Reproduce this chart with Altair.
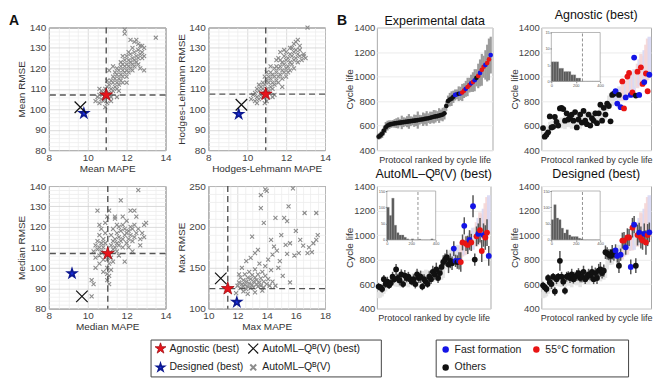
import altair as alt
import numpy as np
import pandas as pd

FONT = "Liberation Sans"
STAR = ("M0,-1L0.2245,-0.309L0.9511,-0.309L0.3633,0.118L0.5878,0.809L0,0.382"
        "L-0.5878,0.809L-0.3633,0.118L-0.9511,-0.309L-0.2245,-0.309Z")
CROSS = "M-1,-1L1,1M-1,1L1,-1"

# ---------------- Panel A data (MAPE, RMSE) ----------------
a_mean = [(10.4,104),(10.5,106),(10.6,103),(10.6,107),(10.7,105),(10.7,109),(10.8,104),(10.8,108),(10.9,110),(10.9,106),
          (11.0,103),(11.0,111),(11.1,108),(11.1,112),(11.2,106),(11.2,110),(11.2,114),(11.3,109),(11.3,113),(11.3,116),
          (11.4,111),(11.4,115),(11.4,118),(11.5,110),(11.5,113),(11.5,117),(11.5,120),(11.6,112),(11.6,115),(11.6,119),
          (11.7,114),(11.7,117),(11.7,121),(11.7,123),(11.8,113),(11.8,116),(11.8,119),(11.8,122),(11.9,118),(11.9,121),
          (11.9,124),(12.0,116),(12.0,119),(12.0,122),(12.0,126),(12.1,118),(12.1,121),(12.1,124),(12.2,120),(12.2,123),
          (12.2,127),(12.3,119),(12.3,122),(12.3,125),(12.4,121),(12.4,124),(12.4,128),(12.5,123),(12.5,126),(12.5,134),
          (12.6,122),(12.6,125),(12.6,129),(12.7,127),(12.7,131),(12.8,125),(12.8,128),(12.8,131),(12.9,126),(12.9,130),
          (11.9,139),(11.9,137),(12.2,134),(13.5,135),(12.4,133),(11.1,119),(11.3,121),(11.0,114),(10.9,101),(11.2,104),
          (12.0,113),(12.3,130),(11.6,109),(12.7,120),(12.9,119),(11.5,106),(10.6,110),(12.1,128),(11.8,126),(12.6,132)]
a_hl = [(10.2,105),(10.3,107),(10.4,104),(10.4,108),(10.5,106),(10.5,110),(10.6,105),(10.6,109),(10.7,107),(10.7,111),
        (10.8,106),(10.8,110),(10.8,113),(10.9,108),(10.9,112),(11.0,104),(11.0,110),(11.0,114),(11.1,109),(11.1,113),
        (11.1,116),(11.2,111),(11.2,115),(11.2,118),(11.3,110),(11.3,113),(11.3,117),(11.4,112),(11.4,116),(11.4,120),
        (11.5,114),(11.5,118),(11.5,121),(11.6,113),(11.6,116),(11.6,120),(11.7,117),(11.7,121),(11.7,124),(11.8,115),
        (11.8,119),(11.8,123),(11.9,118),(11.9,122),(11.9,126),(12.0,120),(12.0,124),(12.0,128),(12.1,121),(12.1,125),
        (12.2,119),(12.2,123),(12.2,127),(12.3,122),(12.3,126),(12.3,130),(12.4,124),(12.4,128),(12.4,132),(12.5,125),
        (12.5,129),(12.5,133),(12.6,127),(12.6,123),(12.7,126),(12.7,129),(12.8,124),(12.9,126),(12.9,127),(13.0,125),
        (13.1,140),(11.0,118),(10.9,116),(11.6,125),(12.2,130),(11.4,107),(12.0,116),(10.6,112),(11.9,129),(12.7,131),
        (11.2,121),(11.8,111),(12.4,120),(10.9,103),(11.5,124),(12.1,118),(11.3,106),(12.6,134),(11.7,128),(10.5,103)]
a_median = [(10.3,108),(10.4,105),(10.4,111),(10.5,109),(10.5,113),(10.6,106),(10.6,110),(10.6,116),(10.7,108),(10.7,112),
            (10.7,119),(10.8,104),(10.8,110),(10.8,114),(10.9,107),(10.9,112),(10.9,117),(10.9,122),(11.0,100),(11.0,97),
            (11.0,94),(11.1,102),(11.1,96),(11.1,92),(11.2,99),(11.2,111),(11.2,116),(11.3,109),(11.3,113),(11.3,119),
            (11.4,110),(11.4,114),(11.4,124),(11.5,108),(11.5,112),(11.5,117),(11.6,111),(11.6,115),(11.6,120),(11.7,113),
            (11.7,118),(11.7,133),(11.8,110),(11.8,114),(11.8,121),(11.9,116),(11.9,119),(12.0,112),(12.0,117),(12.0,123),
            (12.1,114),(12.1,118),(12.2,116),(12.2,120),(12.2,128),(12.3,113),(12.3,119),(12.4,115),(12.4,121),(12.5,117),
            (12.5,125),(12.6,138),(12.6,119),(12.7,114),(12.8,117),(12.9,121),(13.0,122),(10.5,128),(11.1,128),(11.4,125),
            (12.4,128),(10.2,94),(10.3,92),(10.2,86),(10.6,102),(11.9,103),(12.3,108),(11.0,104),(10.8,98),(11.6,106),
            (12.1,110),(10.6,121),(11.2,105),(11.8,125),(12.7,111),(10.4,100),(11.5,121),(11.3,103),(12.9,115),(11.0,125)]
a_max = [(12.0,128),(12.1,132),(12.2,125),(12.2,138),(12.3,130),(12.4,127),(12.4,135),(12.5,142),(12.5,129),(12.6,124),
         (12.6,133),(12.7,138),(12.7,127),(12.8,131),(12.8,145),(12.9,125),(12.9,136),(13.0,129),(13.0,141),(13.1,133),
         (13.1,126),(13.2,138),(13.2,148),(13.3,130),(13.3,135),(13.4,127),(13.4,142),(13.5,132),(13.5,155),(13.6,137),
         (13.6,128),(13.7,145),(13.8,133),(13.8,126),(13.9,140),(14.0,130),(14.1,136),(14.2,128),(14.3,147),(14.4,133),
         (12.3,150),(12.6,158),(12.9,162),(13.2,168),(13.4,172),(13.0,188),(13.6,223),(13.6,239),(13.9,246),(14.0,244),
         (13.8,205),(14.3,184),(14.5,176),(14.7,171),(14.6,211),(15.0,190),(15.2,211),(15.4,207),(15.4,167),(15.6,180),
         (15.9,165),(15.8,247),(15.5,225),(16.0,195),(16.3,184),(16.5,177),(16.6,217),(16.9,175),(17.1,169),(17.4,184),
         (17.4,217),(17.5,190),(17.2,180),(16.8,168),(14.8,150),(15.1,140),(15.6,132),(14.9,158),(12.7,118),(13.2,120),
         (11.9,119),(12.4,121),(13.7,122),(14.6,128),(14.1,160),(13.9,152),(12.1,142),(14.4,166),(15.3,178),(16.2,168)]

best_names = ["Agnostic (best)", "Designed (best)", "AutoML–Qᴮ(V) (best)"]
best_mean_x = [10.95, 9.8, 9.62]
best_mean_y = [107.0, 98.0, 101.0]
best_hl_x = [10.95, 9.56, 9.7]
best_hl_y = [107.4, 97.6, 102.2]
best_median_x = [11.03, 9.19, 9.7]
best_median_y = [107.0, 97.2, 86.0]
best_max_x = [11.33, 11.95, 10.85]
best_max_y = [124.5, 108.0, 137.0]

legend_a_labels = ["Agnostic (best)", "AutoML–Qᴮ(V) (best)", "Designed (best)", "AutoML–Qᴮ(V)"]
legend_a_col = [0, 1, 0, 1]
legend_a_row = [0, 0, 1, 1]

# ---------------- Panel B data (protocols ranked by cycle life) ----------------
rank = list(range(64))
exp_life = [510, 520, 535, 560, 585, 600, 608, 612, 615, 618, 620, 622, 624, 626, 628, 630,
            632, 634, 636, 638, 640, 642, 645, 648, 650, 652, 655, 658, 660, 664, 668, 672,
            675, 678, 682, 686, 690, 700, 760, 800, 812, 820, 835, 850, 855, 860,
            862, 870, 885, 900, 915, 930, 945, 955, 970, 990, 1005, 1030, 1055, 1080, 1095, 1110, 1140, 1175]
exp_err = [25, 30, 35, 40, 45, 40, 35, 30, 30, 35, 40, 45, 30, 55, 40, 35,
           45, 60, 40, 35, 50, 45, 70, 40, 35, 55, 45, 60, 40, 50, 45, 55,
           50, 40, 60, 45, 55, 50, 40, 45, 55, 60, 50, 45, 40, 60,
           55, 70, 60, 65, 75, 60, 70, 80, 90, 70, 100, 110, 130, 90, 120, 150, 170, 150]
group = ['O'] * 43 + ['F', 'F', 'O', 'F', 'H', 'H', 'F', 'H', 'H', 'F', 'H',
                      'F', 'O', 'H', 'F', 'H', 'H', 'F', 'H', 'H', 'F']
pred_agn = [580, 510, 525, 545, 675, 585, 590, 670, 630, 600,
            740, 745, 735, 640, 700, 650, 672, 690, 640, 710,
            585, 650, 690, 625, 720, 640, 612, 690, 600, 660,
            640, 700, 620, 700, 770, 640, 745, 690, 780, 760,
            635, 850, 860,
            880, 780, 850, 750, 960, 740, 830, 1000, 1030, 850, 870, 1155, 845, 1040, 850, 1075, 940, 955, 1025, 880, 1015]
pred_aut = [580, 575, 560, 640, 600, 620, 590, 610, 660, 640,
            720, 650, 630, 680, 600, 670, 650, 660, 640, 620,
            640, 600, 680, 650, 660, 580, 640, 620, 600, 660,
            640, 700, 680, 720, 650, 690, 740, 780, 800, 820,
            760, 790, 770,
            890, 790, 780, 790, 780, 940, 1075, 930, 920, 960, 940, 1235, 800, 990, 1010, 1040, 870, 1000, 980, 1020, 830]
err_aut = [30, 25, 30, 35, 30, 40, 30, 35, 40, 30,
           45, 35, 40, 40, 30, 45, 35, 40, 35, 30,
           40, 35, 45, 40, 50, 30, 40, 35, 30, 45,
           40, 50, 45, 55, 40, 50, 60, 55, 50, 60,
           70, 60, 55,
           60, 50, 55, 70, 80, 65, 70, 60, 75, 80, 70, 90, 50, 80, 85, 100, 90, 95, 100, 110, 80]
pred_des = [590, 575, 560, 650, 615, 600, 660, 540, 640, 660,
            790, 660, 620, 545, 660, 670, 650, 680, 640, 660,
            670, 690, 650, 660, 700, 640, 660, 680, 670, 700,
            640, 690, 650, 710, 720, 690, 710, 860, 850, 840,
            830, 860, 840,
            875, 830, 750, 840, 955, 955, 900, 980, 980, 740, 1060, 1085, 750, 1000, 1020, 980, 955, 1010, 940, 1000, 1022]
err_des = [30, 25, 35, 30, 35, 40, 30, 35, 40, 30,
           80, 40, 35, 30, 40, 35, 40, 45, 35, 40,
           45, 40, 35, 45, 50, 40, 35, 45, 40, 50,
           40, 45, 50, 55, 60, 45, 50, 55, 50, 45,
           55, 60, 50,
           50, 55, 60, 50, 65, 70, 60, 75, 70, 60, 80, 70, 60, 85, 80, 90, 75, 85, 100, 90, 80]

hist_lo = [0, 20, 40, 60, 80, 100, 120, 140, 160, 180, 200, 220, 240, 260, 280, 300, 320, 340, 360, 380]
hist_hi = [20, 40, 60, 80, 100, 120, 140, 160, 180, 200, 220, 240, 260, 280, 300, 320, 340, 360, 380, 400]
hist_agn = [6, 6, 6, 4, 4, 3, 3, 3, 2, 2, 1, 1, 0, 0, 0, 0, 0, 0, 0, 0]
hist_aut = [100, 75, 128, 45, 22, 15, 15, 8, 3, 0, 3, 0, 0, 2, 0, 0, 0, 0, 3, 0]
hist_des = [62, 108, 67, 62, 36, 21, 31, 15, 10, 10, 10, 5, 3, 0, 0, 0, 0, 0, 0, 0]
hist_threshold = 255

legend_b_labels = ["Fast formation", "55°C formation", "Others"]
legend_b_codes = ["F", "H", "O"]
legend_b_col = [0, 1, 0]
legend_b_row = [0, 0, 1]

for lst in (exp_life, exp_err, group, pred_agn, pred_aut, err_aut, pred_des, err_des):
    assert len(lst) == 64, len(lst)

# ---------------- styles ----------------
cat_shape = alt.Scale(domain=legend_a_labels, range=[STAR, CROSS, STAR, CROSS])
cat_fill = alt.Scale(domain=legend_a_labels, range=['#e8141b', 'transparent', '#1b2fe0', 'transparent'])
cat_stroke = alt.Scale(domain=legend_a_labels, range=['#a00d12', '#111111', '#0c1890', '#8c8c8c'])
cat_sw = alt.Scale(domain=legend_a_labels, range=[0.8, 2.0, 0.8, 1.2])
grp_color = alt.Scale(domain=legend_b_codes, range=['#1414e6', '#e81414', '#111111'])
grp_light = alt.Scale(domain=legend_b_codes, range=['#d8d8f4', '#f4d6d6', '#e2e2e2'])

H = 123
TITLE_FS = 12.5


def ind(ch):
    return ch.resolve_scale(color='independent', fill='independent', stroke='independent',
                            shape='independent', size='independent', strokeWidth='independent')


def letter_mark(letter, dx):
    return alt.Chart(pd.DataFrame({'t': [letter]})).mark_text(
        fontSize=14, fontWeight='bold', align='left', baseline='middle', color='#111').encode(
        text='t:N', x=alt.value(dx), y=alt.value(-7))


def a_panel(pts, bx, by, xdom, xminor, xmajor, ydom, yminor, ymajor, xtitle, ytitle, width=117, letter=None):
    df = pd.DataFrame(pts, columns=['x', 'y'])
    xmaj = np.round(np.arange(xdom[0], xdom[1] + 1e-9, xmajor), 4).tolist()
    ymaj = np.round(np.arange(ydom[0], ydom[1] + 1e-9, ymajor), 4).tolist()
    xmin = [v for v in np.round(np.arange(xdom[0], xdom[1] + 1e-9, xminor), 4).tolist() if v not in xmaj]
    ymin = [v for v in np.round(np.arange(ydom[0], ydom[1] + 1e-9, yminor), 4).tolist() if v not in ymaj]
    xs = alt.Scale(domain=xdom, nice=False)
    ys = alt.Scale(domain=ydom, nice=False)
    xax = alt.Axis(title=xtitle, values=xmaj, format='d', grid=True, gridColor='#d2d2d2', gridWidth=0.8,
                   ticks=False, domain=False, labelPadding=2, titlePadding=1, labelOverlap=False,
                   labelFlush=False, labelFontSize=10, titleFontSize=10)
    yax = alt.Axis(title=ytitle, values=ymaj, format='d', grid=True, gridColor='#d2d2d2', gridWidth=0.8,
                   ticks=False, domain=False, labelPadding=3, titlePadding=1, labelOverlap=False,
                   labelFlush=False, minExtent=21, maxExtent=21, labelFontSize=10, titleFontSize=10)
    minor = alt.Chart(df).mark_point(opacity=0).encode(
        x=alt.X('x:Q', scale=xs, axis=alt.Axis(orient='top', values=xmin, labels=False, ticks=False,
                                               domain=False, grid=True, gridColor='#eeeeee',
                                               gridWidth=0.8, title=None, minExtent=0, maxExtent=0)),
        y=alt.Y('y:Q', scale=ys, axis=alt.Axis(orient='right', values=ymin, labels=False, ticks=False,
                                               domain=False, grid=True, gridColor='#eeeeee',
                                               gridWidth=0.8, title=None, minExtent=0, maxExtent=0)))
    cloud = alt.Chart(df).mark_point(shape=CROSS, filled=False, color='#8c8c8c', size=16,
                                     strokeWidth=1.1, opacity=1).encode(
        x=alt.X('x:Q', scale=xs, axis=xax), y=alt.Y('y:Q', scale=ys, axis=yax))
    bdf = pd.DataFrame({'name': best_names, 'x': bx, 'y': by})
    vr = alt.Chart(bdf.iloc[:1]).mark_rule(color='#555555', strokeDash=[6, 4], strokeWidth=1.4).encode(
        x=alt.X('x:Q', scale=xs, axis=None))
    hr = alt.Chart(bdf.iloc[:1]).mark_rule(color='#555555', strokeDash=[6, 4], strokeWidth=1.4).encode(
        y=alt.Y('y:Q', scale=ys, axis=None))
    best = alt.Chart(bdf).mark_point(opacity=1).encode(
        x=alt.X('x:Q', scale=xs, axis=None), y=alt.Y('y:Q', scale=ys, axis=None),
        shape=alt.Shape('name:N', scale=cat_shape, legend=None),
        fill=alt.Fill('name:N', scale=cat_fill, legend=None),
        stroke=alt.Stroke('name:N', scale=cat_stroke, legend=None),
        strokeWidth=alt.StrokeWidth('name:N', scale=cat_sw, legend=None),
        size=alt.Size('name:N', scale=alt.Scale(domain=legend_a_labels, range=[180, 40, 180, 16]), legend=None))
    layers = [minor, cloud, vr, hr, best]
    if letter:
        layers.append(letter_mark(letter, -40))
    return alt.layer(*layers).resolve_axis(x='independent', y='independent').properties(
        width=width, height=H, view=alt.ViewBackground(stroke='#555555', strokeWidth=1))


df_b = pd.DataFrame({'rank': rank, 'exp': exp_life, 'exp_err': exp_err, 'group': group,
                     'agn': pred_agn, 'aut': pred_aut, 'aut_err': err_aut,
                     'des': pred_des, 'des_err': err_des})

B_XAX = alt.Axis(title='Protocol ranked by cycle life', labels=False, ticks=False, domain=False,
                 grid=False, titleFontSize=9, titlePadding=5)
B_YAX = alt.Axis(title='Cycle life', values=[400, 600, 800, 1000, 1200, 1400], format='d', grid=True,
                 gridColor='#ebebeb', ticks=False, domain=False, labelPadding=2, titlePadding=0,
                 labelOverlap=False, minExtent=22, maxExtent=22, labelFontSize=9.5, titleFontSize=10)


def b_panel(title, width, pred=None, err=None, hist=None, hmax=None, hxt=None, hyt=None, letter=None):
    xs = alt.Scale(domain=[-1, 64], nice=False)
    ys = alt.Scale(domain=[400, 1400], nice=False)
    X = alt.X('rank:Q', scale=xs, axis=B_XAX, title='Protocol ranked by cycle life')

    def Y(f):
        return alt.Y(f, scale=ys, axis=B_YAX, title='Cycle life')

    base = alt.Chart(df_b).transform_calculate(
        lo='datum.exp - datum.exp_err', hi='datum.exp + datum.exp_err')
    if pred is None:
        bars = base.mark_rule(color='#9c9c9c', strokeWidth=2.2).encode(x=X, y=Y('lo:Q'), y2='hi:Q')
        pts = base.mark_circle(size=22, opacity=1).encode(
            x=X, y=Y('exp:Q'), color=alt.Color('group:N', scale=grp_color, legend=None))
        layers = [bars, pts]
    else:
        band = base.mark_rule(strokeWidth=3.6, opacity=0.9).encode(
            x=X, y=Y('lo:Q'), y2='hi:Q', stroke=alt.Stroke('group:N', scale=grp_light, legend=None))
        layers = [band]
        if err is not None:
            eb = alt.Chart(df_b).transform_calculate(
                plo=f'datum.{pred} - datum.{err}', phi=f'datum.{pred} + datum.{err}').mark_rule(
                color='#555555', strokeWidth=1.5).encode(x=X, y=Y('plo:Q'), y2='phi:Q')
            layers.append(eb)
        pts = alt.Chart(df_b).mark_circle(size=34, opacity=1).encode(
            x=X, y=Y(f'{pred}:Q'), color=alt.Color('group:N', scale=grp_color, legend=None))
        layers.append(pts)
    if letter:
        layers.append(letter_mark(letter, -40))
        layers.append(alt.Chart(pd.DataFrame({'t': [title]})).mark_text(
            fontSize=TITLE_FS, align='center', baseline='middle', color='#111').encode(
            text='t:N', x=alt.value(width / 2), y=alt.value(-7)))
        return alt.layer(*layers).properties(width=width, height=H,
                                             view=alt.ViewBackground(stroke='#aaaaaa', strokeWidth=1))
    main = alt.layer(*layers)
    ttl = alt.TitleParams(title, fontSize=TITLE_FS, font=FONT, fontWeight='normal', color='#111',
                          offset=1, frame='group')
    ixs = alt.Scale(domain=[0, 400], range=[10, 59], nice=False)
    iys = alt.Scale(domain=[0, hmax], range=[54, 5], nice=False)
    frame = alt.Chart(pd.DataFrame({'x0': [0], 'x1': [400], 'y0': [0], 'y1': [hmax]})).mark_rect(
        fill='white', stroke='#999999', strokeWidth=0.7).encode(
        x=alt.X('x0:Q', scale=ixs, axis=alt.Axis(orient='bottom', offset=-(H - 54), values=hxt,
                                                 labelFontSize=4, tickSize=1.5, tickColor='#888',
                                                 domain=False, grid=False, title=None, zindex=1,
                                                 labelPadding=0.5, labelColor='#555', labelFlush=False,
                                                 labelOverlap=False)),
        x2='x1:Q',
        y=alt.Y('y0:Q', scale=iys, axis=alt.Axis(orient='left', offset=-10, values=hyt,
                                                 labelFontSize=4, tickSize=1.5, tickColor='#888',
                                                 domain=False, grid=False, title=None, zindex=1,
                                                 labelPadding=0.5, labelColor='#555',
                                                 labelOverlap=False, minExtent=0, maxExtent=0)),
        y2='y1:Q')
    hdf = pd.DataFrame({'lo': hist_lo, 'hi': hist_hi, 'n': hist})
    hb = alt.Chart(hdf).mark_rect(color='#5a5a5a', stroke='#9a9a9a', strokeWidth=0.3).encode(
        x=alt.X('lo:Q', scale=ixs), x2='hi:Q', y=alt.Y('n:Q', scale=iys), y2=alt.datum(0))
    thr = alt.Chart(pd.DataFrame({'v': [hist_threshold]})).mark_rule(
        color='#777777', strokeDash=[3, 2], strokeWidth=0.8).encode(
        x=alt.X('v:Q', scale=ixs), y=alt.datum(0), y2=alt.datum(hmax))
    inset = alt.layer(frame, hb, thr)
    return alt.layer(main, inset).resolve_scale(x='independent', y='independent').properties(
        width=width, height=H, title=ttl, view=alt.ViewBackground(stroke='#aaaaaa', strokeWidth=1))


A1 = a_panel(a_mean, best_mean_x, best_mean_y, [8, 14], 0.5, 2, [80, 140], 2, 10,
             'Mean MAPE', 'Mean RMSE', letter='A')
A2 = a_panel(a_hl, best_hl_x, best_hl_y, [8, 14], 0.5, 2, [80, 140], 2, 10,
             'Hodges-Lehmann MAPE', 'Hodges-Lehmann RMSE')
A3 = a_panel(a_median, best_median_x, best_median_y, [8, 14], 0.5, 2, [80, 140], 2, 10,
             'Median MAPE', 'Median RMSE')
A4 = a_panel(a_max, best_max_x, best_max_y, [10, 18], 0.5, 2, [100, 250], 10, 50,
             'Max MAPE', 'Max RMSE')

B1 = b_panel('Experimental data', 116, letter='B')
B2 = b_panel('Agnostic (best)', 110, pred='agn', hist=hist_agn, hmax=15,
             hxt=[0, 100, 200, 300, 400], hyt=[0, 5, 10, 15])
B3 = b_panel('AutoML–Qᴮ(V) (best)', 114, pred='aut', err='aut_err', hist=hist_aut, hmax=150,
             hxt=[0, 200, 400], hyt=[0, 50, 100, 150])
B4 = b_panel('Designed (best)', 110, pred='des', err='des_err', hist=hist_des, hmax=150,
             hxt=[0, 200, 400], hyt=[0, 50, 100, 150])

# ---------------- legends ----------------
lxs = alt.Scale(domain=[0, 1], range=[10, 103])
lys = alt.Scale(domain=[0, 1], range=[9, 28])
lda = pd.DataFrame({'name': legend_a_labels, 'col': legend_a_col, 'row': legend_a_row})
la_sym = alt.Chart(lda).mark_point(opacity=1).encode(
    x=alt.X('col:Q', scale=lxs, axis=None), y=alt.Y('row:Q', scale=lys, axis=None),
    shape=alt.Shape('name:N', scale=cat_shape, legend=None),
    fill=alt.Fill('name:N', scale=cat_fill, legend=None),
    stroke=alt.Stroke('name:N', scale=cat_stroke, legend=None),
    strokeWidth=alt.StrokeWidth('name:N', scale=cat_sw, legend=None),
    size=alt.Size('name:N', scale=alt.Scale(domain=legend_a_labels, range=[130, 35, 130, 35]), legend=None))
la_txt = alt.Chart(lda).mark_text(align='left', baseline='middle', dx=9, fontSize=10.5, color='#222').encode(
    x=alt.X('col:Q', scale=lxs, axis=None), y=alt.Y('row:Q', scale=lys, axis=None), text='name:N')
LA = alt.layer(la_sym, la_txt).properties(width=231, height=37,
                                          view=alt.ViewBackground(stroke='#444444', strokeWidth=1))

lxs2 = alt.Scale(domain=[0, 1], range=[10, 101])
lys2 = alt.Scale(domain=[0, 1], range=[10, 28])
ldb = pd.DataFrame({'name': legend_b_labels, 'code': legend_b_codes, 'col': legend_b_col, 'row': legend_b_row})
lb_sym = alt.Chart(ldb).mark_circle(size=42, opacity=1).encode(
    x=alt.X('col:Q', scale=lxs2, axis=None), y=alt.Y('row:Q', scale=lys2, axis=None),
    color=alt.Color('code:N', scale=grp_color, legend=None))
lb_txt = alt.Chart(ldb).mark_text(align='left', baseline='middle', dx=9, fontSize=10.5, color='#222').encode(
    x=alt.X('col:Q', scale=lxs2, axis=None), y=alt.Y('row:Q', scale=lys2, axis=None), text='name:N')
LB = alt.layer(lb_sym, lb_txt).properties(width=193, height=37,
                                          view=alt.ViewBackground(stroke='#444444', strokeWidth=1))


def gap(w, h):
    return alt.Chart(pd.DataFrame({'v': [0]})).mark_point(opacity=0).encode(
        x=alt.X('v:Q', axis=None), y=alt.Y('v:Q', axis=None)).properties(
        width=w, height=h, view=alt.ViewBackground(stroke='transparent'))


top = ind(alt.concat(A1, gap(43, 10), A2, gap(52, 10), B1, gap(49, 10), B2,
                     A3, gap(43, 10), A4, gap(52, 10), B3, gap(49, 10), B4,
                     columns=7, spacing={'row': 36, 'column': 0}, bounds='flush'))
bottom = ind(alt.hconcat(gap(47, 37), LA, LB, spacing=53))

chart = ind(alt.vconcat(top, bottom, spacing=6)).properties(
    padding={'left': 0, 'top': 0, 'right': 0, 'bottom': 0}
).configure(font=FONT).configure_axis(
    labelFont=FONT, titleFont=FONT, titleFontWeight='normal', labelColor='#444444', titleColor='#333333'
).configure_view(stroke='#555555')

chart.save("out.html", embed_options={"renderer": "svg", "actions": False})
